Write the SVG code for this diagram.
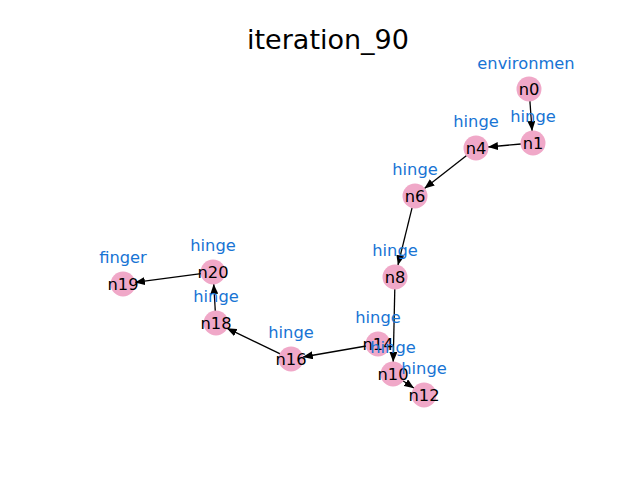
<svg xmlns="http://www.w3.org/2000/svg" width="640" height="480" viewBox="0 0 640 480">
<style>
.nd{fill:#f0a8c8}
.nt{font-family:"DejaVu Sans",sans-serif;font-size:16.3px;fill:#000;text-anchor:middle}
.lb{font-family:"DejaVu Sans",sans-serif;font-size:16.3px;fill:#1874d4;text-anchor:middle}
.e{stroke:#000;stroke-width:1.3;fill:none;marker-end:url(#ah)}
</style>
<defs>
<marker id="ah" viewBox="0 0 10 8" refX="10" refY="4" markerWidth="10" markerHeight="8" markerUnits="userSpaceOnUse" orient="auto">
<path d="M0,0 L10,4 L0,8 Z" fill="#000"/>
</marker>
</defs>
<rect width="640" height="480" fill="#fff"/>
<text x="328" y="49" font-family="DejaVu Sans, sans-serif" font-size="27" text-anchor="middle">iteration_90</text>
<g id="connectors">
<line class="e" x1="529.9" y1="101" x2="532.1" y2="131"/>
<line class="e" x1="521" y1="144" x2="488" y2="147"/>
<line class="e" x1="466.6" y1="155.4" x2="424.4" y2="188.6"/>
<line class="e" x1="412.1" y1="207.7" x2="397.9" y2="265.3"/>
<line class="e" x1="394.8" y1="289" x2="393.2" y2="362"/>
<line class="e" x1="402.9" y1="380.7" x2="414.1" y2="388.3"/>
<line class="e" x1="366.2" y1="346" x2="302.8" y2="357"/>
<line class="e" x1="280.2" y1="353.8" x2="226.8" y2="328.2"/>
<line class="e" x1="215.3" y1="311" x2="213.7" y2="284"/>
<line class="e" x1="201.1" y1="273.6" x2="134.9" y2="282.4"/>
</g>
<g id="n0"><circle class="nd" cx="529" cy="89" r="12.5"/><text class="nt" x="529" y="95">n0</text><text class="lb" x="526" y="69">environmen</text></g>
<g id="n1"><circle class="nd" cx="533" cy="143" r="12.5"/><text class="nt" x="533" y="149">n1</text><text class="lb" x="533" y="122">hinge</text></g>
<g id="n4"><circle class="nd" cx="476" cy="148" r="12.5"/><text class="nt" x="476" y="154">n4</text><text class="lb" x="476" y="127">hinge</text></g>
<g id="n6"><circle class="nd" cx="415" cy="196" r="12.5"/><text class="nt" x="415" y="202">n6</text><text class="lb" x="415" y="175">hinge</text></g>
<g id="n8"><circle class="nd" cx="395" cy="277" r="12.5"/><text class="nt" x="395" y="283">n8</text><text class="lb" x="395" y="256">hinge</text></g>
<g id="n14"><circle class="nd" cx="378" cy="344" r="12.5"/><text class="nt" x="378" y="350">n14</text><text class="lb" x="378" y="323">hinge</text></g>
<g id="n10"><circle class="nd" cx="393" cy="374" r="12.5"/><text class="nt" x="393" y="380">n10</text><text class="lb" x="393" y="353">hinge</text></g>
<g id="n12"><circle class="nd" cx="424" cy="395" r="12.5"/><text class="nt" x="424" y="401">n12</text><text class="lb" x="424" y="374">hinge</text></g>
<g id="n16"><circle class="nd" cx="291" cy="359" r="12.5"/><text class="nt" x="291" y="365">n16</text><text class="lb" x="291" y="338">hinge</text></g>
<g id="n18"><circle class="nd" cx="216" cy="323" r="12.5"/><text class="nt" x="216" y="329">n18</text><text class="lb" x="216" y="302">hinge</text></g>
<g id="n20"><circle class="nd" cx="213" cy="272" r="12.5"/><text class="nt" x="213" y="278">n20</text><text class="lb" x="213" y="251">hinge</text></g>
<g id="n19"><circle class="nd" cx="123" cy="284" r="12.5"/><text class="nt" x="123" y="290">n19</text><text class="lb" x="123" y="263">finger</text></g>
</svg>
